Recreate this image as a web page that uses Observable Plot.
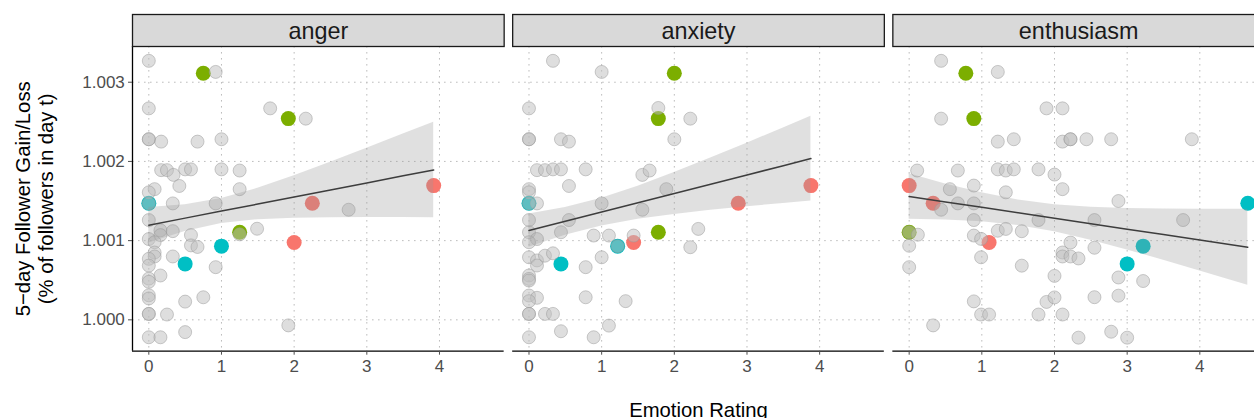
<!DOCTYPE html>
<html><head><meta charset="utf-8">
<script src="https://cdn.jsdelivr.net/npm/d3@7"></script>
<script src="https://cdn.jsdelivr.net/npm/@observablehq/plot@0.6"></script>
<style>
body{margin:0;background:#fff;}
#wrap{width:1254px;height:418px;overflow:hidden;}
#wrap svg{max-width:none !important;}
</style></head><body><div id="wrap"></div>
<script>
const emotions = ["anger", "anxiety", "enthusiasm"];
const xTicks = [0, 1, 2, 3, 4];
const yTicks = [1.000, 1.001, 1.002, 1.003];
const groups = ["g1", "g2", "g3"];
const groupColors = ["#F8766D", "#7CAE00", "#00BFC4"];
const xDomain = [-0.2245, 4.89];
const yDomain = [0.999604, 1.003451];

// grey points (all observations), [rating, gain]
const angerGrey = [[0,1.00327],[0.92,1.00313],[0,1.00267],[1.67,1.00267],[2.16,1.00254],[0,1.00228],[0,1.00228],[0.17,1.00225],[0.67,1.00225],[1.0,1.00228],
[0.17,1.00189],[0.25,1.00189],[0.34,1.00183],[0.5,1.0019],[0.58,1.0019],[1.0,1.0019],[1.25,1.001885],[0.42,1.00169],[0.08,1.00165],[0,1.00161],[1.25,1.00165],
[0,1.00147],[0.33,1.00147],[0.92,1.00147],[2.75,1.00139],[0,1.00126],
[0.16,1.00113],[0.16,1.00107],[0.33,1.00112],[0.58,1.00107],[1.49,1.00115],[1.25,1.00108],
[0,1.00102],[0.08,1.00098],[0.58,1.00094],[0.67,1.00092],
[0.08,1.00085],[0.08,1.0008],[0,1.00077],[0.33,1.0008],[0,1.000685],[0.92,1.000665],
[0.16,1.00056],[0,1.00052],[0,1.00048],[0,1.00031],[0,1.00027],[0.5,1.00023],[0.75,1.000285],
[0,1.000075],[0,1.000075],[0.25,1.000067],[1.92,0.99993],[0,0.99978],[0.16,0.99978],[0.5,0.999845]];
const anxietyGrey = [[0.33,1.00327],[1.0,1.00313],[0,1.00267],[1.78,1.002675],[2.22,1.00254],[0,1.00228],[0,1.00228],[0.44,1.00228],[0.55,1.00225],[2.0,1.00228],
[0.11,1.00189],[0.22,1.00189],[0.33,1.0019],[0.44,1.0019],[0.78,1.0019],[1.56,1.00183],[1.66,1.001885],[0.55,1.00169],[0,1.00165],[0,1.00161],[1.89,1.00165],
[0.11,1.00147],[0,1.00147],[1.0,1.00147],[1.56,1.00139],[0,1.00126],[0.55,1.00126],
[0,1.001106],[0.44,1.001106],[0.11,1.00102],[0,1.00098],[0.89,1.001064],[1.1,1.001064],[1.44,1.001064],[2.33,1.001148],[2.22,1.000917],[1.22,1.00093],
[0,1.00079],[0.11,1.00075],[0.11,1.000686],[0.22,1.00081],[0.33,1.00084],[0.78,1.000665],[1.0,1.00079],
[0,1.00056],[0,1.000517],[0,1.000496],[0,1.000307],[0.11,1.000278],[0,1.000236],[0.78,1.000285],[1.33,1.000236],
[0,1.000075],[0,1.000075],[0.22,1.000075],[0.33,1.000075],[1.1,0.999927],[0.44,0.999856],[0,0.99978],[0.89,0.99978]];
const enthusiasmGrey = [[0.44,1.00327],[1.22,1.00313],[0.44,1.00254],[1.89,1.00267],[2.11,1.00267],[1.22,1.00225],[1.44,1.00228],[2.11,1.00225],[2.22,1.00228],[2.22,1.00228],[2.44,1.00228],[2.78,1.00228],[3.89,1.00228],
[0.11,1.001885],[0.67,1.001885],[1.22,1.0019],[1.33,1.001885],[1.44,1.0019],[1.78,1.0019],[2.0,1.001834],
[0.56,1.00165],[0.89,1.001695],[2.11,1.00165],[1.33,1.00161],
[0.67,1.00147],[0.89,1.00147],[0.44,1.00139],[2.88,1.0015],
[0.89,1.00126],[1.78,1.00126],[2.55,1.00126],[3.77,1.00126],
[0,1.001106],[0.12,1.001075],[1.22,1.001125],[1.33,1.001148],[1.55,1.001119],[0.89,1.001064],[0.99,1.001022],
[0,1.000935],[2.22,1.000976],[2.55,1.00091],
[2.11,1.00085],[2.11,1.0008],[2.22,1.0008],[2.33,1.000775],
[0.99,1.00079],[1.55,1.000684],[0,1.000665],
[2.0,1.000555],[2.88,1.000535],[3.22,1.00049],
[0.89,1.000233],[1.89,1.000226],[2.0,1.000283],[2.55,1.000286],[2.88,1.000305],
[0.99,1.000067],[1.10,1.000067],[1.78,1.000067],[2.11,1.000067],
[0.33,0.99993],[2.78,0.99985],[2.33,0.999775],[3.0,0.999775]];

// highlighted points
const angerRed = [[2.0,1.000976],[2.25,1.001472],[3.92,1.001695]];
const angerGreen = [[0.75,1.003113],[1.92,1.002541],[1.25,1.001105]];
const angerCyan = [[0,1.001472],[0.5,1.000706],[1.0,1.00093]];
const anxietyRed = [[1.44,1.000976],[2.88,1.001472],[3.88,1.001695]];
const anxietyGreen = [[2.0,1.003113],[1.78,1.002541],[1.78,1.001106]];
const anxietyCyan = [[0,1.001472],[0.44,1.000706],[1.22,1.00093]];
const enthusiasmRed = [[1.10,1.000976],[0.33,1.001472],[0,1.001695]];
const enthusiasmGreen = [[0.78,1.003113],[0.89,1.002541],[0,1.001106]];
const enthusiasmCyan = [[4.66,1.001472],[3.0,1.000706],[3.22,1.00093]];

// linear fit with 95% band
const angerSmoothX = [0,0.5,1,1.5,2,2.5,3,3.5,3.92];
const angerFit = [1.001195,1.001284,1.001373,1.001462,1.001551,1.00164,1.001729,1.001818,1.001893];
const angerLo = [1.000971,1.001115,1.001216,1.001264,1.001283,1.00129,1.001292,1.001291,1.00129];
const angerHi = [1.001419,1.001453,1.001531,1.00166,1.001819,1.00199,1.002166,1.002345,1.002496];
const anxietySmoothX = [0,0.5,1,1.5,2,2.5,3,3.5,3.88];
const anxietyFit = [1.001127,1.001244,1.001361,1.001478,1.001595,1.001712,1.001829,1.001946,1.002036];
const anxietyLo = [1.000918,1.001069,1.001186,1.001269,1.001331,1.001382,1.001427,1.00147,1.001501];
const anxietyHi = [1.001336,1.001419,1.001536,1.001687,1.001859,1.002042,1.002231,1.002423,1.002571];
const enthusiasmSmoothX = [0,0.5,1,1.5,2,2.5,3,3.5,4,4.66];
const enthusiasmFit = [1.001557,1.001488,1.00142,1.001351,1.001282,1.001214,1.001145,1.001076,1.001007,1.000917];
const enthusiasmLo = [1.001271,1.00126,1.001237,1.00119,1.001111,1.001006,1.000883,1.000753,1.000618,1.000437];
const enthusiasmHi = [1.001843,1.001716,1.001603,1.001512,1.001453,1.001422,1.001407,1.0014,1.001396,1.001397];

// build tables
const greyBy = {anger: angerGrey, anxiety: anxietyGrey, enthusiasm: enthusiasmGrey};
const grey = emotions.flatMap(e => greyBy[e].map(([x, y]) => ({emotion: e, x, y})));
const hiBy = {
  anger: [angerRed, angerGreen, angerCyan],
  anxiety: [anxietyRed, anxietyGreen, anxietyCyan],
  enthusiasm: [enthusiasmRed, enthusiasmGreen, enthusiasmCyan]
};
const highlight = emotions.flatMap(e => hiBy[e].flatMap((arr, gi) => arr.map(([x, y]) => ({emotion: e, group: groups[gi], x, y}))));
const smBy = {
  anger: [angerSmoothX, angerFit, angerLo, angerHi],
  anxiety: [anxietySmoothX, anxietyFit, anxietyLo, anxietyHi],
  enthusiasm: [enthusiasmSmoothX, enthusiasmFit, enthusiasmLo, enthusiasmHi]
};
const smooth = emotions.flatMap(e => {
  const [xs, f, lo, hi] = smBy[e];
  return xs.map((x, i) => ({emotion: e, x, fit: f[i], lo: lo[i], hi: hi[i]}));
});

const chart = Plot.plot({
  width: 1264,
  height: 418,
  marginLeft: 132,
  marginRight: 0,
  marginTop: 46,
  marginBottom: 67.3,
  style: {fontFamily: "'Liberation Sans', Arial, Helvetica, sans-serif", background: "white", overflow: "visible", maxWidth: "none"},
  fx: {domain: emotions, paddingInner: 0.0224, paddingOuter: 0, round: false, axis: null, label: null},
  x: {domain: xDomain},
  y: {domain: yDomain},
  color: {domain: groups, range: groupColors},
  marks: [
    Plot.gridX(xTicks, {stroke: "#bdbdbd", strokeOpacity: 1, strokeWidth: 1, strokeDasharray: "1.6,4.4"}),
    Plot.gridY(yTicks, {stroke: "#bdbdbd", strokeOpacity: 1, strokeWidth: 1, strokeDasharray: "1.6,4.4"}),
    Plot.dot(highlight, {fx: "emotion", x: "x", y: "y", fill: "group", r: 7.5}),
    Plot.dot(grey, {fx: "emotion", x: "x", y: "y", r: 6.5, fill: "#BEBEBE", fillOpacity: 0.5, stroke: "#999", strokeOpacity: 0.5, strokeWidth: 1}),
    Plot.areaY(smooth, {fx: "emotion", x: "x", y1: "lo", y2: "hi", fill: "#999", fillOpacity: 0.3}),
    Plot.line(smooth, {fx: "emotion", x: "x", y: "fit", stroke: "#3d3d3d", strokeWidth: 1.5}),
    Plot.ruleY([yDomain[0]], {stroke: "black", strokeWidth: 1.3}),
    Plot.ruleX([xDomain[0]], {fx: ["anger"], stroke: "black", strokeWidth: 1.3}),
    Plot.axisX(xTicks, {tickSize: 4, tickPadding: 4.6, fontSize: 17, color: "#4D4D4D", label: null}),
    Plot.axisY(yTicks, {tickSize: 4, tickPadding: 3.7, fontSize: 17, color: "#4D4D4D", label: null, tickFormat: d3.format(".3f")}),
    Plot.frame({fill: "#D9D9D9", stroke: "#1a1a1a", strokeWidth: 1.3, insetTop: -32, insetBottom: 304.7}),
    Plot.text(emotions, {fx: d => d, text: d => d, frameAnchor: "top", lineAnchor: "middle", dy: -15.5, fontSize: 23.4, fill: "#1A1A1A"}),
    Plot.text(["Emotion Rating"], {fx: ["anxiety"], text: d => d, frameAnchor: "bottom", lineAnchor: "middle", dy: 59, fontSize: 20.3, fill: "black"}),
    Plot.text(["5\u2212day Follower Gain/Loss\n(% of followers in day t)"], {fx: ["anger"], text: d => d, frameAnchor: "left", textAnchor: "middle", lineAnchor: "middle", dx: -98.7, rotate: -90, fontSize: 20.3, lineHeight: 1.15, fill: "black"})
  ]
});
document.getElementById("wrap").appendChild(chart);
</script></body></html>
